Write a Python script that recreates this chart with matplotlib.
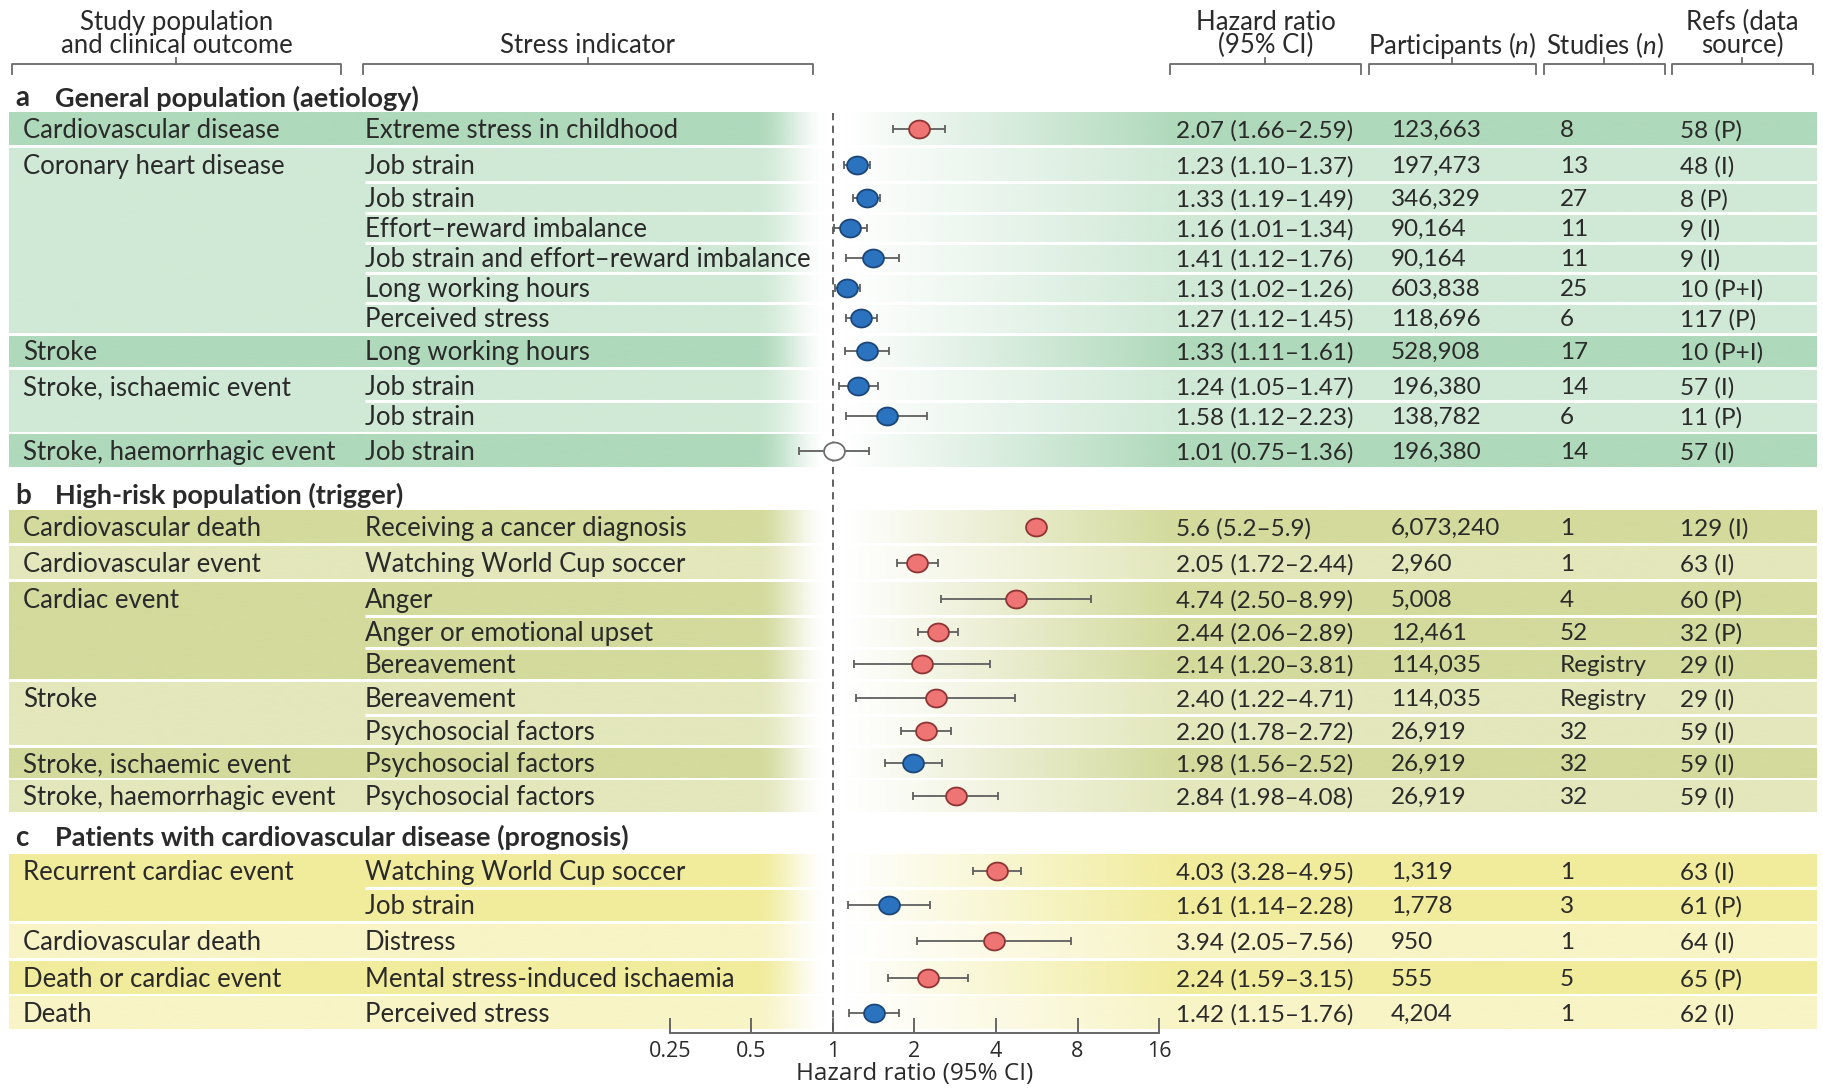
import numpy as np
import matplotlib
matplotlib.use('Agg')
import matplotlib.pyplot as plt
from matplotlib.colors import to_rgb
from matplotlib.path import Path

plt.rcParams['font.family'] = ['Lato', 'DejaVu Sans']
plt.rcParams['mathtext.fontset'] = 'custom'
plt.rcParams['mathtext.rm'] = 'Lato'
plt.rcParams['mathtext.it'] = 'Lato:italic'

# ---------------- data ----------------
section_letters = ['a', 'b', 'c']
section_titles = ['General population (aetiology)',
                  'High-risk population (trigger)',
                  'Patients with cardiovascular disease (prognosis)']

group_section = [0, 0, 0, 0, 0,
                 1, 1, 1, 1, 1, 1,
                 2, 2, 2, 2]
group_outcomes = ['Cardiovascular disease', 'Coronary heart disease', 'Stroke',
                  'Stroke, ischaemic event', 'Stroke, haemorrhagic event',
                  'Cardiovascular death', 'Cardiovascular event', 'Cardiac event',
                  'Stroke', 'Stroke, ischaemic event', 'Stroke, haemorrhagic event',
                  'Recurrent cardiac event', 'Cardiovascular death',
                  'Death or cardiac event', 'Death']
group_sizes = [1, 6, 1, 2, 1,
               1, 1, 3, 2, 1, 1,
               2, 1, 1, 1]

stress = ['Extreme stress in childhood', 'Job strain', 'Job strain',
          'Effort\u2013reward imbalance', 'Job strain and effort\u2013reward imbalance',
          'Long working hours', 'Perceived stress', 'Long working hours',
          'Job strain', 'Job strain', 'Job strain',
          'Receiving a cancer diagnosis', 'Watching World Cup soccer', 'Anger',
          'Anger or emotional upset', 'Bereavement', 'Bereavement',
          'Psychosocial factors', 'Psychosocial factors', 'Psychosocial factors',
          'Watching World Cup soccer', 'Job strain', 'Distress',
          'Mental stress-induced ischaemia', 'Perceived stress']
hr = [2.07, 1.23, 1.33, 1.16, 1.41, 1.13, 1.27, 1.33, 1.24, 1.58, 1.01,
      5.6, 2.05, 4.74, 2.44, 2.14, 2.40, 2.20, 1.98, 2.84,
      4.03, 1.61, 3.94, 2.24, 1.42]
lo = [1.66, 1.10, 1.19, 1.01, 1.12, 1.02, 1.12, 1.11, 1.05, 1.12, 0.75,
      5.2, 1.72, 2.50, 2.06, 1.20, 1.22, 1.78, 1.56, 1.98,
      3.28, 1.14, 2.05, 1.59, 1.15]
hi = [2.59, 1.37, 1.49, 1.34, 1.76, 1.26, 1.45, 1.61, 1.47, 2.23, 1.36,
      5.9, 2.44, 8.99, 2.89, 3.81, 4.71, 2.72, 2.52, 4.08,
      4.95, 2.28, 7.56, 3.15, 1.76]
hr_labels = ['2.07 (1.66\u20132.59)', '1.23 (1.10\u20131.37)', '1.33 (1.19\u20131.49)',
             '1.16 (1.01\u20131.34)', '1.41 (1.12\u20131.76)', '1.13 (1.02\u20131.26)',
             '1.27 (1.12\u20131.45)', '1.33 (1.11\u20131.61)', '1.24 (1.05\u20131.47)',
             '1.58 (1.12\u20132.23)', '1.01 (0.75\u20131.36)',
             '5.6 (5.2\u20135.9)', '2.05 (1.72\u20132.44)', '4.74 (2.50\u20138.99)',
             '2.44 (2.06\u20132.89)', '2.14 (1.20\u20133.81)', '2.40 (1.22\u20134.71)',
             '2.20 (1.78\u20132.72)', '1.98 (1.56\u20132.52)', '2.84 (1.98\u20134.08)',
             '4.03 (3.28\u20134.95)', '1.61 (1.14\u20132.28)', '3.94 (2.05\u20137.56)',
             '2.24 (1.59\u20133.15)', '1.42 (1.15\u20131.76)']
participants = ['123,663', '197,473', '346,329', '90,164', '90,164', '603,838',
                '118,696', '528,908', '196,380', '138,782', '196,380',
                '6,073,240', '2,960', '5,008', '12,461', '114,035', '114,035',
                '26,919', '26,919', '26,919',
                '1,319', '1,778', '950', '555', '4,204']
studies = ['8', '13', '27', '11', '11', '25', '6', '17', '14', '6', '14',
           '1', '1', '4', '52', 'Registry', 'Registry', '32', '32', '32',
           '1', '3', '1', '5', '1']
refs = ['58 (P)', '48 (I)', '8 (P)', '9 (I)', '9 (I)', '10 (P+I)', '117 (P)',
        '10 (P+I)', '57 (I)', '11 (P)', '57 (I)',
        '129 (I)', '63 (I)', '60 (P)', '32 (P)', '29 (I)', '29 (I)', '59 (I)',
        '59 (I)', '59 (I)',
        '63 (I)', '61 (P)', '64 (I)', '65 (P)', '62 (I)']
xticks = [0.25, 0.5, 1, 2, 4, 8, 16]
xtick_labels = ['0.25', '0.5', '1', '2', '4', '8', '16']

# ---------------- layout (pixel coordinates) ----------------
W, H = 1824, 1090
section_y = [97, 494, 836]
row_y = [129, 165, 198, 228, 258, 288, 318, 351, 386, 416, 451,
         527, 563, 599, 632, 664, 698, 731, 763, 796,
         871, 905, 941, 978, 1013]
col_x = {'outcome': 23, 'stress': 365, 'hr': 1176, 'part': 1391,
         'stud': 1560, 'refs': 1680}
band_x0, band_x1 = 9, 1817
axis_y = 1033
fx_left, fx_right = 670, 1159
DY = 1.5   # text baseline nudge

shades = [('#afd9bb', '#d0e9d6'),
          ('#d3da9c', '#e3e7bb'),
          ('#f1ec9c', '#f8f4c6')]
TXT = '#2a2a2a'
FS = 18.5        # row / header text
FSN = 17.5       # numeric columns
FSB = 19.5       # section titles

fig = plt.figure(figsize=(W / 100, H / 100), dpi=100)
bg = fig.add_axes([0, 0, 1, 1])
bg.set_xlim(0, W)
bg.set_ylim(H, 0)
bg.axis('off')

# gradient alpha profile across x: smooth fade on the left, linear ramp on the right
gx = np.arange(band_x0, band_x1 + 1)
a_left = np.interp(gx, [band_x0, 755, 828], [1, 1, 0])
a_left = a_left * a_left * (3 - 2 * a_left)
a_right = np.interp(gx, [845, 1175], [0, 1])
alpha = np.where(gx < 836, a_left, a_right)

# ---------------- bands ----------------
start = 0
prev_sec = -1
shade_idx = 0
for g, (sec, name, n) in enumerate(zip(group_section, group_outcomes, group_sizes)):
    rows = list(range(start, start + n))
    if sec != prev_sec:
        shade_idx = 0
    ytop = row_y[rows[0]] - 16.5
    ybot = row_y[rows[-1]] + 16.5
    if g > 0 and group_section[g - 1] == sec:
        ytop = (row_y[rows[0] - 1] + row_y[rows[0]]) / 2 + 1.5
    if g + 1 < len(group_sizes) and group_section[g + 1] == sec:
        ybot = (row_y[rows[-1]] + row_y[rows[-1] + 1]) / 2 - 1.5
    col = np.array(to_rgb(shades[sec][shade_idx % 2]))
    img = np.ones((2, len(gx), 4))
    img[..., :3] = col
    img[..., 3] = alpha
    bg.imshow(img, extent=(band_x0, band_x1, ybot, ytop), aspect='auto',
              interpolation='bilinear', zorder=1)
    for r in rows[:-1]:
        ys = (row_y[r] + row_y[r + 1]) / 2
        bg.plot([col_x['stress'], band_x1], [ys, ys], color='white', lw=2.2,
                zorder=2, solid_capstyle='butt')
    bg.text(col_x['outcome'], row_y[rows[0]] + DY, name, fontsize=FS, color=TXT,
            va='center', ha='left', zorder=3)
    shade_idx += 1
    prev_sec = sec
    start += n

# ---------------- row texts ----------------
for i, y in enumerate(row_y):
    y = y + DY
    bg.text(col_x['stress'], y, stress[i], fontsize=FS, color=TXT, va='center', zorder=3)
    bg.text(col_x['hr'], y, hr_labels[i], fontsize=FSN, color=TXT, va='center', zorder=3)
    bg.text(col_x['part'], y, participants[i], fontsize=FSN, color=TXT, va='center', zorder=3)
    bg.text(col_x['stud'], y, studies[i], fontsize=FSN, color=TXT, va='center', zorder=3)
    bg.text(col_x['refs'], y, refs[i], fontsize=FSN, color=TXT, va='center', zorder=3)

# section titles
for s, y in enumerate(section_y):
    bg.text(15, y + DY, section_letters[s], fontsize=FSB + 0.5, fontweight='bold',
            color=TXT, va='center')
    bg.text(55, y + DY, section_titles[s], fontsize=FSB, fontweight='bold',
            color=TXT, va='center')

# ---------------- header ----------------
brackets = [(12, 341), (363, 813), (1170, 1361), (1369, 1536), (1544, 1665), (1672, 1813)]
headers = [('Study population', 'and clinical outcome'), (None, 'Stress indicator'),
           ('Hazard ratio', '(95% CI)'), (None, 'Participants ($\\it{n}$)'),
           (None, 'Studies ($\\it{n}$)'), ('Refs (data', 'source)')]
for (x0, x1), (l1, l2) in zip(brackets, headers):
    xc = (x0 + x1) / 2
    bg.plot([x0, x0, x1, x1], [74, 64, 64, 74], color='#6a6a6a', lw=1.3)
    bg.plot([xc, xc], [64, 58], color='#6a6a6a', lw=1.3)
    if l1:
        bg.text(xc, 21 + DY, l1, fontsize=FS, color=TXT, ha='center', va='center')
    bg.text(xc, 44 + DY, l2, fontsize=FS, color=TXT, ha='center', va='center')

# ---------------- forest axes ----------------
fx = fig.add_axes([fx_left / W, (H - axis_y) / H, (fx_right - fx_left) / W, axis_y / H])
fx.patch.set_alpha(0)
fx.set_xscale('log', base=2)
fx.set_xlim(xticks[0], xticks[-1])
fx.set_ylim(axis_y, 0)
for sp in ['top', 'left', 'right']:
    fx.spines[sp].set_visible(False)
fx.spines['bottom'].set_color('#666666')
fx.spines['bottom'].set_linewidth(1.4)
fx.set_yticks([])
fx.set_xticks(xticks)
fx.set_xticklabels(xtick_labels)
fx.minorticks_off()
fx.tick_params(axis='x', direction='in', length=11, width=1.4, color='#666666',
               labelsize=15.5, labelcolor=TXT, pad=6)
for lab in fx.get_xticklabels():
    lab.set_family(['Open Sans', 'DejaVu Sans'])
fx.set_xlabel('Hazard ratio (95% CI)', fontsize=17.5, color=TXT, labelpad=0,
              family=['Open Sans', 'DejaVu Sans'])

fx.plot([1, 1], [113, axis_y], color='#555555', lw=1.3, ls=(0, (4, 3)), zorder=2)

# slightly wide elliptical marker
t = np.linspace(0, 2 * np.pi, 61)
ellipse = Path(np.column_stack([np.cos(t), 0.86 * np.sin(t)]), closed=True)

for i, y in enumerate(row_y):
    if lo[i] < 1:
        fc, ec = 'white', '#6e6e6e'
    elif hr[i] >= 2:
        fc, ec = '#ef7474', '#8e3434'
    else:
        fc, ec = '#2b73bf', '#1c4678'
    fx.errorbar([hr[i]], [y], xerr=[[hr[i] - lo[i]], [hi[i] - hr[i]]],
                fmt='none', ecolor='#5f5f5f', elinewidth=1.3, capsize=3.2,
                capthick=1.3, zorder=3)
    fx.plot([hr[i]], [y], marker=ellipse, ms=15, mfc=fc, mec=ec, mew=1.3,
            zorder=4, ls='none')

fig.savefig('out.png', dpi=100)
